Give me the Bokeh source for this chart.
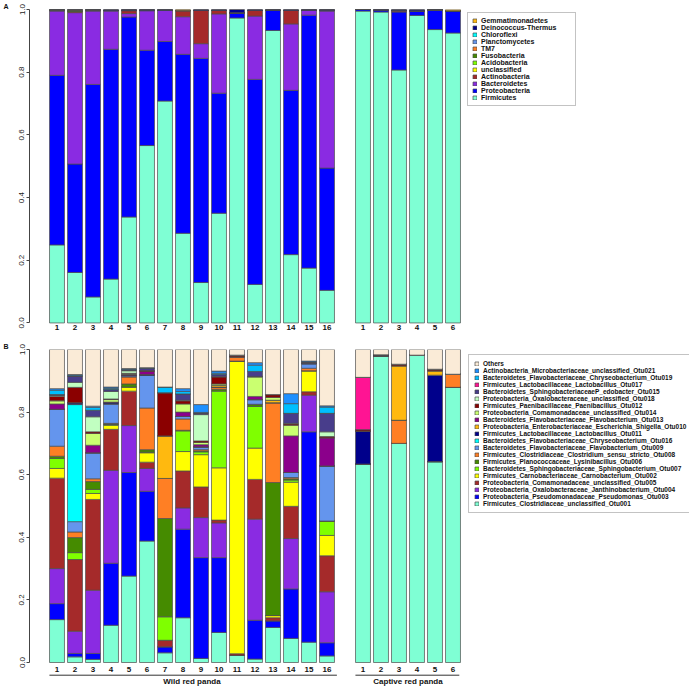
import numpy as np
from bokeh.plotting import figure
from bokeh.models import Range1d, FixedTicker, Legend, LegendItem, Title, ColumnDataSource, LinearAxis
from bokeh.layouts import column
from bokeh.embed import file_html
from bokeh.resources import INLINE
from bokeh.core.properties import value

# ---------------- data ----------------
wild_labels = [str(i) for i in range(1, 17)]
captive_labels = [str(i) for i in range(1, 7)]
group_names = ["Wild red panda", "Captive red panda"]

# Panel A: phyla (bottom -> top of stack)
phyla = ["Firmicutes", "Proteobacteria", "Bacteroidetes", "Actinobacteria", "unclassified",
         "Acidobacteria", "Fusobacteria", "TM7", "Planctomycetes", "Chloroflexi",
         "Deinococcus-Thermus", "Gemmatimonadetes"]
phyla_colors = ["#7FFFD4", "#0000FF", "#8A2BE2", "#A52A2A", "#FFFF00", "#7FFF00", "#458B00",
                "#FF7F24", "#6495ED", "#00FFFF", "#00008B", "#FFB90F"]

# cumulative upper bound of each phylum per sample
A_W01 = [0.249, 0.790, 0.995, 0.998, 0.998, 0.998, 0.999, 0.999, 0.999, 0.999, 1.0, 1.0]
A_W02 = [0.161, 0.507, 0.990, 0.994, 0.994, 0.994, 0.998, 0.999, 0.999, 0.999, 1.0, 1.0]
A_W03 = [0.083, 0.761, 0.995, 0.999, 0.999, 0.999, 0.999, 0.999, 0.999, 0.999, 1.0, 1.0]
A_W04 = [0.140, 0.873, 0.995, 0.997, 0.997, 0.997, 0.997, 0.997, 0.997, 0.997, 1.0, 1.0]
A_W05 = [0.338, 0.976, 0.987, 0.996, 0.998, 0.998, 0.998, 0.998, 0.998, 0.998, 1.0, 1.0]
A_W06 = [0.566, 0.870, 0.996, 0.998, 0.998, 0.998, 0.998, 0.998, 0.998, 0.998, 1.0, 1.0]
A_W07 = [0.708, 0.898, 0.997, 0.998, 0.998, 0.998, 0.998, 0.998, 0.998, 0.998, 1.0, 1.0]
A_W08 = [0.286, 0.857, 0.977, 0.995, 0.997, 0.997, 0.997, 0.997, 0.997, 0.997, 0.997, 1.0]
A_W09 = [0.129, 0.844, 0.891, 0.997, 0.997, 0.997, 0.997, 0.997, 0.997, 0.997, 1.0, 1.0]
A_W10 = [0.350, 0.733, 0.986, 0.997, 0.997, 0.997, 0.997, 0.997, 0.997, 0.997, 1.0, 1.0]
A_W11 = [0.973, 0.988, 0.989, 0.990, 0.990, 0.990, 0.990, 0.990, 0.990, 0.990, 1.0, 1.0]
A_W12 = [0.123, 0.777, 0.979, 0.997, 0.997, 0.997, 0.997, 0.997, 0.997, 0.997, 1.0, 1.0]
A_W13 = [0.933, 0.997, 0.997, 0.998, 0.998, 0.998, 0.998, 0.998, 0.998, 0.998, 1.0, 1.0]
A_W14 = [0.218, 0.742, 0.954, 0.997, 0.997, 0.997, 0.997, 0.997, 0.997, 0.997, 1.0, 1.0]
A_W15 = [0.175, 0.982, 0.997, 0.998, 0.998, 0.998, 0.998, 0.998, 0.998, 0.998, 1.0, 1.0]
A_W16 = [0.104, 0.494, 0.995, 0.998, 0.998, 0.998, 0.998, 0.998, 0.998, 0.998, 1.0, 1.0]
A_C1 = [0.995, 1.0, 1.0, 1.0, 1.0, 1.0, 1.0, 1.0, 1.0, 1.0, 1.0, 1.0]
A_C2 = [0.992, 0.998, 0.998, 0.998, 0.998, 0.998, 0.998, 0.998, 0.998, 0.998, 1.0, 1.0]
A_C3 = [0.807, 0.992, 0.994, 0.997, 0.997, 0.997, 0.997, 0.997, 0.997, 0.997, 1.0, 1.0]
A_C4 = [0.981, 0.996, 0.996, 0.996, 0.996, 0.996, 0.996, 0.996, 0.996, 0.996, 1.0, 1.0]
A_C5 = [0.936, 0.999, 0.999, 0.999, 0.999, 0.999, 0.999, 0.999, 0.999, 0.999, 1.0, 1.0]
A_C6 = [0.925, 0.995, 0.996, 0.996, 0.996, 0.996, 0.996, 0.996, 0.996, 0.996, 0.996, 1.0]

# Panel B: OTUs (bottom -> top of stack)
otus = ["Firmicutes_Clostridiaceae_unclassified_Otu001",
        "Proteobacteria_Pseudomonadaceae_Pseudomonas_Otu003",
        "Proteobacteria_Oxalobacteraceae_Janthinobacterium_Otu004",
        "Proteobacteria_Comamonadaceae_unclassified_Otu005",
        "Firmicutes_Carnobacteriaceae_Carnobacterium_Otu002",
        "Bacteroidetes_Sphingobacteriaceae_Sphingobacterium_Otu007",
        "Firmicutes_Planococcaceae_Lysinibacillus_Otu006",
        "Firmicutes_Clostridiaceae_Clostridium_sensu_stricto_Otu008",
        "Bacteroidetes_Flavobacteriaceae_Flavobacterium_Otu009",
        "Bacteroidetes_Flavobacteriaceae_Chryseobacterium_Otu016",
        "Firmicutes_Lactobacillaceae_Lactobacillus_Otu011",
        "Proteobacteria_Enterobacteriaceae_Escherichia_Shigella_Otu010",
        "Bacteroidetes_Flavobacteriaceae_Flavobacterium_Otu013",
        "Proteobacteria_Comamonadaceae_unclassified_Otu014",
        "Firmicutes_Paenibacillaceae_Paenibacillus_Otu012",
        "Proteobacteria_Oxalobacteraceae_unclassified_Otu018",
        "Bacteroidetes_SphingobacteriaceaeP_edobacter_Otu015",
        "Firmicutes_Lactobacillaceae_Lactobacillus_Otu017",
        "Bacteroidetes_Flavobacteriaceae_Chryseobacterium_Otu019",
        "Actinobacteria_Microbacteriaceae_unclassified_Otu021",
        "Others"]
otu_colors = ["#7FFFD4", "#0000FF", "#8A2BE2", "#A52A2A", "#FFFF00", "#7FFF00", "#458B00",
              "#FF7F24", "#6495ED", "#00FFFF", "#00008B", "#FFB90F", "#8B008B", "#CAFF70",
              "#8B0000", "#C1FFC1", "#483D8B", "#FF1493", "#00BFFF", "#1E90FF", "#FAEBD7"]

# cumulative upper bound of each OTU per sample
B_W01 = [0.137, 0.188, 0.300, 0.589, 0.620, 0.652, 0.659, 0.691, 0.809, 0.809, 0.809, 0.809, 0.826, 0.836, 0.850, 0.853, 0.856, 0.856, 0.870, 0.875, 1.0]
B_W02 = [0.018, 0.029, 0.100, 0.329, 0.329, 0.351, 0.399, 0.417, 0.450, 0.824, 0.830, 0.830, 0.830, 0.830, 0.879, 0.895, 0.915, 0.915, 0.918, 0.920, 1.0]
B_W03 = [0.010, 0.029, 0.231, 0.521, 0.540, 0.553, 0.578, 0.587, 0.670, 0.670, 0.670, 0.670, 0.694, 0.732, 0.737, 0.785, 0.806, 0.806, 0.815, 0.819, 1.0]
B_W04 = [0.119, 0.317, 0.614, 0.745, 0.758, 0.760, 0.762, 0.764, 0.826, 0.826, 0.830, 0.830, 0.832, 0.840, 0.842, 0.866, 0.872, 0.872, 0.876, 0.880, 1.0]
B_W05 = [0.276, 0.607, 0.757, 0.867, 0.880, 0.880, 0.890, 0.912, 0.916, 0.916, 0.918, 0.918, 0.920, 0.922, 0.924, 0.932, 0.935, 0.935, 0.937, 0.939, 1.0]
B_W06 = [0.388, 0.547, 0.620, 0.640, 0.670, 0.672, 0.680, 0.813, 0.918, 0.918, 0.920, 0.920, 0.930, 0.930, 0.933, 0.933, 0.940, 0.940, 0.940, 0.942, 1.0]
B_W07 = [0.031, 0.050, 0.050, 0.071, 0.071, 0.146, 0.460, 0.588, 0.588, 0.588, 0.588, 0.724, 0.724, 0.724, 0.862, 0.862, 0.862, 0.862, 0.880, 0.880, 1.0]
B_W08 = [0.143, 0.426, 0.494, 0.612, 0.674, 0.740, 0.742, 0.778, 0.786, 0.786, 0.786, 0.786, 0.800, 0.826, 0.836, 0.838, 0.858, 0.858, 0.866, 0.875, 1.0]
B_W09 = [0.013, 0.335, 0.463, 0.561, 0.664, 0.673, 0.676, 0.680, 0.689, 0.689, 0.689, 0.689, 0.696, 0.703, 0.708, 0.792, 0.797, 0.797, 0.799, 0.824, 1.0]
B_W10 = [0.096, 0.335, 0.446, 0.455, 0.622, 0.867, 0.873, 0.880, 0.880, 0.880, 0.880, 0.886, 0.886, 0.890, 0.912, 0.914, 0.920, 0.920, 0.924, 0.931, 1.0]
B_W11 = [0.023, 0.023, 0.023, 0.028, 0.963, 0.963, 0.963, 0.977, 0.977, 0.977, 0.977, 0.977, 0.977, 0.977, 0.982, 0.982, 0.982, 0.982, 0.982, 0.982, 1.0]
B_W12 = [0.011, 0.135, 0.458, 0.585, 0.685, 0.818, 0.824, 0.825, 0.840, 0.840, 0.840, 0.840, 0.850, 0.912, 0.914, 0.914, 0.930, 0.930, 0.950, 0.958, 1.0]
B_W13 = [0.112, 0.133, 0.133, 0.143, 0.150, 0.150, 0.575, 0.830, 0.830, 0.830, 0.830, 0.838, 0.838, 0.847, 0.856, 0.856, 0.856, 0.856, 0.856, 0.856, 1.0]
B_W14 = [0.077, 0.235, 0.396, 0.499, 0.576, 0.583, 0.587, 0.591, 0.607, 0.607, 0.607, 0.607, 0.724, 0.758, 0.762, 0.764, 0.796, 0.796, 0.827, 0.859, 1.0]
B_W15 = [0.065, 0.737, 0.854, 0.865, 0.932, 0.932, 0.932, 0.940, 0.955, 0.955, 0.955, 0.955, 0.955, 0.955, 0.955, 0.955, 0.960, 0.960, 0.960, 0.963, 1.0]
B_W16 = [0.021, 0.063, 0.226, 0.341, 0.406, 0.452, 0.452, 0.452, 0.628, 0.628, 0.628, 0.628, 0.718, 0.718, 0.722, 0.737, 0.796, 0.796, 0.816, 0.820, 1.0]
B_C1 = [0.634, 0.634, 0.634, 0.634, 0.634, 0.634, 0.634, 0.634, 0.634, 0.634, 0.739, 0.739, 0.739, 0.739, 0.744, 0.744, 0.744, 0.911, 0.911, 0.911, 1.0]
B_C2 = [0.979, 0.979, 0.979, 0.979, 0.979, 0.979, 0.979, 0.979, 0.979, 0.979, 0.983, 0.983, 0.983, 0.983, 0.983, 0.983, 0.983, 0.983, 0.983, 0.983, 1.0]
B_C3 = [0.700, 0.700, 0.700, 0.700, 0.700, 0.700, 0.700, 0.774, 0.774, 0.774, 0.774, 0.948, 0.948, 0.948, 0.953, 0.953, 0.953, 0.953, 0.953, 0.953, 1.0]
B_C4 = [0.982, 0.982, 0.982, 0.982, 0.982, 0.982, 0.982, 0.982, 0.982, 0.982, 0.982, 0.982, 0.982, 0.982, 0.982, 0.982, 0.982, 0.982, 0.982, 0.982, 1.0]
B_C5 = [0.642, 0.642, 0.642, 0.642, 0.642, 0.642, 0.642, 0.642, 0.642, 0.642, 0.918, 0.932, 0.932, 0.932, 0.937, 0.937, 0.937, 0.937, 0.937, 0.937, 1.0]
B_C6 = [0.879, 0.879, 0.879, 0.879, 0.879, 0.879, 0.879, 0.921, 0.921, 0.921, 0.921, 0.921, 0.921, 0.921, 0.921, 0.921, 0.921, 0.921, 0.921, 0.921, 1.0]

A_samples = [A_W01, A_W02, A_W03, A_W04, A_W05, A_W06, A_W07, A_W08, A_W09, A_W10, A_W11,
             A_W12, A_W13, A_W14, A_W15, A_W16, A_C1, A_C2, A_C3, A_C4, A_C5, A_C6]
B_samples = [B_W01, B_W02, B_W03, B_W04, B_W05, B_W06, B_W07, B_W08, B_W09, B_W10, B_W11,
             B_W12, B_W13, B_W14, B_W15, B_W16, B_C1, B_C2, B_C3, B_C4, B_C5, B_C6]

# ---------------- layout ----------------
FONT = value("Liberation Sans")
W = 689
LEFT = 29            # canvas px to the y-axis
PX_X = 18.0          # px per bar slot
BAR0 = 27.5          # px from frame left to centre of first bar
wild_x = list(range(1, 17))
capt_x = list(range(18, 24))
xs = wild_x + capt_x
tick_text = wild_labels + captive_labels


def panel(height, top, px_unit, names, colors, samples, letter, leg_xy, leg_font, leg_rows,
          leg_pad, leg_labw, groups):
    frame_w = W - LEFT
    x0 = 1 - BAR0 / PX_X
    x1 = x0 + frame_w / PX_X
    frame_h = height - top
    y0 = 1 - frame_h / px_unit
    p = figure(width=W, height=height, output_backend="svg", toolbar_location=None,
               x_range=Range1d(x0, x1), y_range=Range1d(y0, 1.0),
               x_axis_type=None, y_axis_type=None,
               min_border_left=LEFT, min_border_right=0, min_border_top=top, min_border_bottom=0)
    p.outline_line_color = None
    p.xgrid.visible = False
    p.ygrid.visible = False

    ttl = Title(text=letter, align="left", offset=-(LEFT - 3), standoff=0,
                text_font="Liberation Sans", text_font_style="bold", text_font_size="7px",
                text_color="#111111")
    p.add_layout(ttl, "above")

    cum = np.array(samples)                       # samples x taxa
    ab = np.diff(np.hstack([np.zeros((cum.shape[0], 1)), cum]), axis=1)
    data = {"x": xs}
    for j, n in enumerate(names):
        data[n] = ab[:, j]
    src = ColumnDataSource(data)
    rs = p.vbar_stack(names, x="x", width=0.83, source=src, fill_color=colors,
                      line_color="#4d4d4d", line_width=0.7)

    yax = LinearAxis(ticker=FixedTicker(ticks=[0, 0.2, 0.4, 0.6, 0.8, 1.0]), bounds=(0, 1))
    yax.major_label_overrides = {0: "0.0", 0.2: "0.2", 0.4: "0.4", 0.6: "0.6", 0.8: "0.8", 1: "1.0"}
    yax.major_label_orientation = "vertical"
    yax.major_label_text_font = "Liberation Sans"
    yax.major_label_text_font_size = "8px"
    yax.major_label_text_color = "#222222"
    yax.major_tick_out = 3
    yax.major_tick_in = 0
    yax.minor_tick_out = 0
    yax.minor_tick_in = 0
    yax.major_label_standoff = 2
    yax.axis_line_color = "#444444"
    yax.major_tick_line_color = "#444444"
    p.add_layout(yax, "left")

    p.text(x=xs, y=[0] * len(xs), text=tick_text, text_align="center", text_baseline="top",
           y_offset=groups["num_off"], text_font=FONT, text_font_style="bold", text_font_size="8px",
           text_color="#111111")

    if groups["show"]:
        yl = -groups["line_off"] / px_unit
        gx0 = [min(wild_x) - 0.42, min(capt_x) - 0.42]
        gx1 = [max(wild_x) + 0.55, max(capt_x) + 0.35]
        p.segment(x0=gx0, x1=gx1, y0=[yl, yl], y1=[yl, yl], line_color="#333333", line_width=1)
        gc = [float(np.mean(wild_x)), float(np.mean(capt_x))]
        p.text(x=gc, y=[yl, yl], text=group_names, text_align="center", text_baseline="top",
               y_offset=2, text_font=FONT, text_font_style="bold", text_font_size="8px",
               text_color="#111111")

    items = [LegendItem(label=n, renderers=[r]) for n, r in zip(names, rs)][::-1]
    leg = Legend(items=items, location=leg_xy)
    leg.label_text_font = "Liberation Sans"
    leg.label_text_font_style = "bold"
    leg.label_text_font_size = leg_font
    leg.label_text_color = "#111111"
    leg.label_height = leg_rows
    leg.label_width = leg_labw
    leg.glyph_height = 5
    leg.glyph_width = 5
    leg.spacing = 0
    leg.padding = leg_pad
    leg.margin = 0
    leg.label_standoff = 4
    leg.border_line_color = "#888888"
    leg.border_line_width = 1
    leg.background_fill_alpha = 1
    p.add_layout(leg)
    return p


pa = panel(340, 8, 314.4, phyla, phyla_colors, A_samples, "A", (438, 234), "7px", 7, 4, 90,
           {"show": False, "num_off": 2})
pb = panel(349, 9, 313.0, otus, otu_colors, B_samples, "B", (439, 176), "6.5px", 7, 5, 20,
           {"show": True, "num_off": 4, "line_off": 12.7})

layout = column(pa, pb, spacing=0)
open("out.html", "w").write(file_html(layout, INLINE))
